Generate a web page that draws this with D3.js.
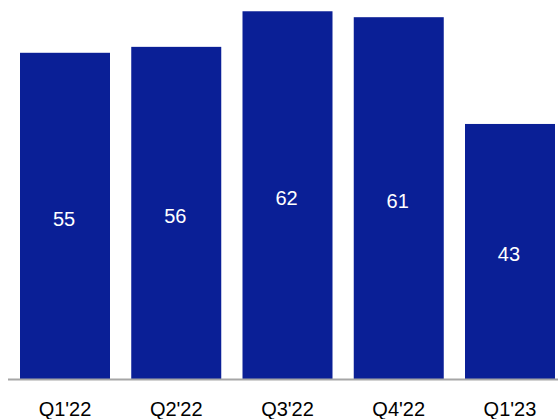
<!DOCTYPE html>
<html>
<head>
<meta charset="utf-8">
<script src="https://cdn.jsdelivr.net/npm/d3@7"></script>
<style>
  html, body { margin: 0; padding: 0; background: #fff; }
  svg { display: block; }
</style>
</head>
<body>
<svg id="chart" width="558" height="419"></svg>
<script>
// Quarterly values
const quarters = ["Q1'22", "Q2'22", "Q3'22", "Q4'22", "Q1'23"];
const values = [55, 56, 62, 61, 43];

const W = 558, H = 419;
const baseY = 379;
const barColor = "#0a1f96";
const font = "'Liberation Sans', Arial, sans-serif";

const svg = d3.select("#chart");

const x = d3.scaleBand()
  .domain(quarters)
  .range([20, 555])
  .paddingInner(0.191)
  .paddingOuter(0);

const y = d3.scaleLinear()
  .domain([0, 63.9])
  .range([baseY, 0]);

const data = quarters.map((q, i) => ({ q, v: values[i] }));

// Bars
svg.append("g")
  .selectAll("rect")
  .data(data)
  .join("rect")
  .attr("x", d => x(d.q))
  .attr("y", d => y(d.v))
  .attr("width", x.bandwidth())
  .attr("height", d => y(0) - y(d.v))
  .attr("fill", barColor);

// Value labels centred inside each bar
svg.append("g")
  .selectAll("text")
  .data(data)
  .join("text")
  .attr("x", d => x(d.q) + x.bandwidth() / 2 - 1)
  .attr("y", d => (y(d.v) + y(0)) / 2 + 3)
  .attr("text-anchor", "middle")
  .attr("dominant-baseline", "central")
  .attr("fill", "#fff")
  .style("font-family", font)
  .style("font-size", "20px")
  .text(d => d.v);

// Category axis
const axis = svg.append("g")
  .attr("transform", `translate(0,${baseY})`)
  .call(d3.axisBottom(x).tickSize(0).tickPadding(0));
axis.select(".domain").remove();
axis.append("line")
  .attr("x1", 8).attr("x2", 558)
  .attr("y1", 0.5).attr("y2", 0.5)
  .attr("stroke", "#a6a6a6")
  .attr("stroke-width", 2);
axis.selectAll(".tick text")
  .attr("y", 30)
  .attr("dy", "0.35em")
  .attr("fill", "#000")
  .style("font-family", font)
  .style("font-size", "20px");
</script>
</body>
</html>
